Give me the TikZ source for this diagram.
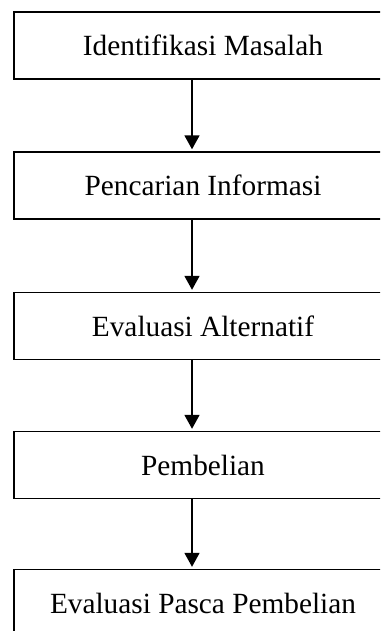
\documentclass[tikz,border=0pt]{standalone}
\usepackage{fontspec}
\setmainfont{Liberation Serif}
\usepackage{tikz}
\usetikzlibrary{arrows.meta}
\newcommand{\fcbox}[3] {\node at (#1) (#2) [stagebox] {#3};}
\newcommand{\fcarrow}[2] {\draw [flowarrow] ([xshift=-11pt]#1.south) -- ([xshift=-11pt]#2.north);}

\begin{document}
\begin{tikzpicture}[x=1pt, y=-1pt,
  stagebox/.style={rectangle, draw, line width=1.4pt, minimum width=378pt, minimum height=67pt, inner sep=0pt, font=\fontsize{29.3}{35}\selectfont},
  flowarrow/.style={line width=1.8pt, -{Triangle[length=14pt,width=15pt]}, shorten >=2pt}]
\useasboundingbox (0,0) rectangle (380,631);
\clip (0,0) rectangle (380,631);

\fcbox {203,45.5} {ident} {Identifikasi Masalah};
\fcbox {203,185.5} {cari} {Pencarian Informasi};
\fcbox {203,326} {evalalt} {Evaluasi Alternatif};
\fcbox {203,465} {beli} {Pembelian};
\fcbox {203,603} {pasca} {Evaluasi Pasca Pembelian};

\fcarrow{ident}{cari};
\fcarrow{cari}{evalalt};
\fcarrow{evalalt}{beli};
\fcarrow{beli}{pasca};
\end{tikzpicture}
\end{document}
